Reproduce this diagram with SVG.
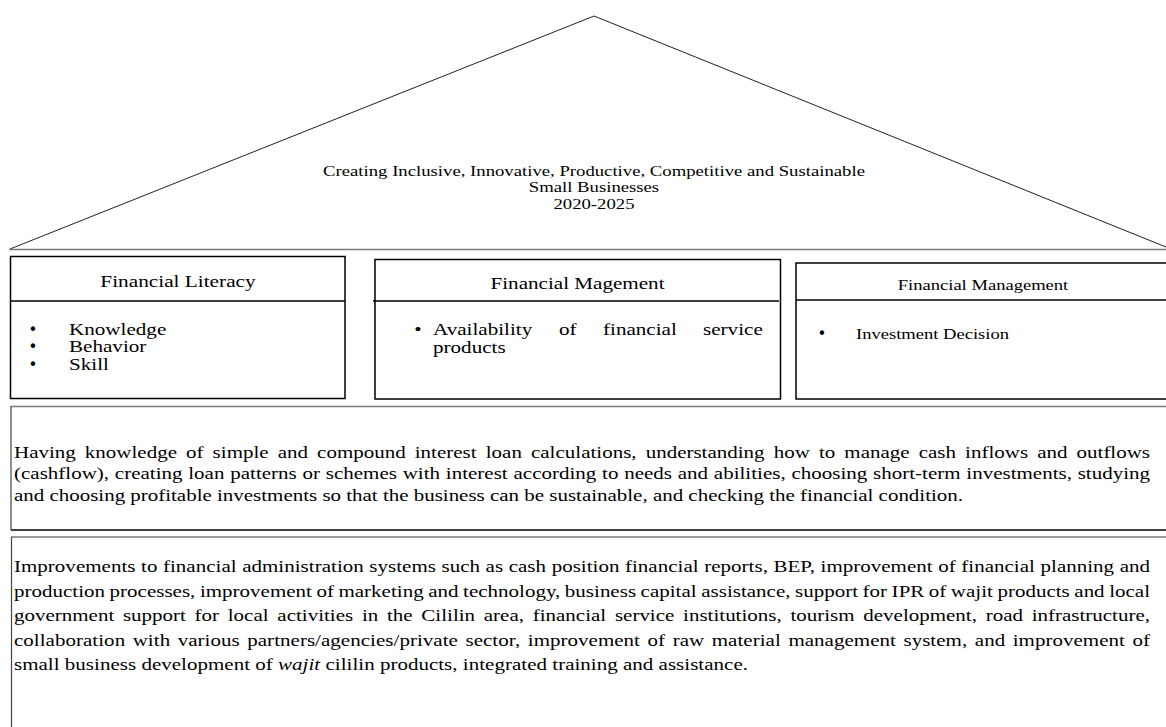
<svg xmlns="http://www.w3.org/2000/svg" width="1166" height="727" viewBox="0 0 1166 727">
<style>
.edge{fill:none;stroke:#222;stroke-width:1}
.frame{fill:none;stroke:#000;stroke-width:1.5}
.rule{stroke:#000;stroke-width:1.5}
.grey{stroke:#7a7a7a;stroke-width:1.5}
.side{stroke:#444;stroke-width:1.2}
.tnr{font-family:"Liberation Serif","Times New Roman",serif;fill:#000;font-size:15px}
.pal{font-family:"Liberation Serif","Times New Roman",serif;fill:#000;font-size:16px}
.dot{font-family:"DejaVu Sans",sans-serif;fill:#000;font-size:15px}
</style>
<rect width="1166" height="727" fill="#fff"/>
<g id="connectors"></g>
<g id="roof">
<polyline class="edge" points="10,249 594,16 1166,247"/>
<line class="grey" x1="9" y1="249.5" x2="1166" y2="249.5"/>
<g transform="scale(1.247,1)">
<text class="tnr" x="476.34" y="176" text-anchor="middle" textLength="434.6" lengthAdjust="spacing">Creating Inclusive, Innovative, Productive, Competitive and Sustainable</text>
<text class="tnr" x="476.34" y="192" text-anchor="middle">Small Businesses</text>
<text class="tnr" x="476.34" y="209" text-anchor="middle">2020-2025</text>
</g>
</g>
<g id="box-literacy">
<rect class="frame" x="10.5" y="256.5" width="334.5" height="142"/>
<line class="rule" x1="10.5" y1="301" x2="345" y2="301"/>
<text class="pal" transform="translate(178,287) scale(1.33,1)" x="0" y="0" font-size="18.5" text-anchor="middle">Financial Literacy</text>
<g transform="scale(1.32,1)">
<text class="pal" x="52.27" y="335.5" font-size="15.5">Knowledge</text>
<text class="pal" x="52.27" y="352.5" font-size="15.5">Behavior</text>
<text class="pal" x="52.27" y="370.5" font-size="15.5">Skill</text>
</g>
<text class="dot" x="33" y="335" text-anchor="middle">•</text>
<text class="dot" x="33" y="352" text-anchor="middle">•</text>
<text class="dot" x="33" y="370" text-anchor="middle">•</text>
</g>
<g id="box-magement">
<rect class="frame" x="375" y="259.5" width="405.5" height="139.5"/>
<line class="rule" x1="373" y1="301" x2="779" y2="301"/>
<g transform="scale(1.32,1)">
<text class="pal" x="437.5" y="289" font-size="15.5" text-anchor="middle">Financial Magement</text>
<text class="pal" x="316.67" y="335" font-size="15.5" text-anchor="middle">•</text>
<text class="pal" x="328.03" y="335" font-size="15.5">Availability</text>
<text class="pal" x="423.48" y="335" font-size="15.5">of</text>
<text class="pal" x="456.82" y="335" font-size="15.5">financial</text>
<text class="pal" x="532.58" y="335" font-size="15.5">service</text>
<text class="pal" x="328.03" y="353" font-size="15.5">products</text>
</g>
</g>
<g id="box-management">
<rect class="frame" x="796" y="263" width="380" height="136"/>
<line class="rule" x1="796" y1="300" x2="1166" y2="300"/>
<g transform="scale(1.238,1)">
<text class="tnr" x="794.02" y="290" text-anchor="middle">Financial Management</text>
<text class="tnr" x="691.44" y="339">Investment Decision</text>
</g>
<text class="dot" x="822" y="338.5" text-anchor="middle">•</text>
</g>
<g id="para-knowledge">
<line class="grey" x1="11" y1="406.5" x2="1166" y2="406.5"/>
<line class="side" x1="11" y1="406" x2="11" y2="530"/>
<line class="rule" x1="11" y1="530" x2="1166" y2="530"/>
<g transform="scale(1.31,1)">
<text class="pal" x="10.69" y="458.5" word-spacing="2.91" textLength="867.18" lengthAdjust="spacing">Having knowledge of simple and compound interest loan calculations, understanding how to manage cash inflows and outflows</text>
<text class="pal" x="10.69" y="479.5" word-spacing="0.4" textLength="867.18" lengthAdjust="spacing">(cashflow), creating loan patterns or schemes with interest according to needs and abilities, choosing short-term investments, studying</text>
<text class="pal" x="10.69" y="501" textLength="724.43" lengthAdjust="spacing">and choosing profitable investments so that the business can be sustainable, and checking the financial condition.</text>
</g>
</g>
<g id="para-improvements">
<line class="grey" x1="11" y1="537" x2="1166" y2="537"/>
<line class="side" x1="11.5" y1="537" x2="11.5" y2="727"/>
<g transform="scale(1.31,1)">
<text class="pal" x="10.69" y="572.5" word-spacing="0.21" textLength="867.18" lengthAdjust="spacing">Improvements to financial administration systems such as cash position financial reports, BEP, improvement of financial planning and</text>
<text class="pal" x="10.69" y="597" word-spacing="-0.58" textLength="867.18" lengthAdjust="spacing">production processes, improvement of marketing and technology, business capital assistance, support for IPR of wajit products and local</text>
<text class="pal" x="10.69" y="621.5" word-spacing="2.63" textLength="867.18" lengthAdjust="spacing">government support for local activities in the Cililin area, financial service institutions, tourism development, road infrastructure,</text>
<text class="pal" x="10.69" y="646" word-spacing="1.74" textLength="867.18" lengthAdjust="spacing">collaboration with various partners/agencies/private sector, improvement of raw material management system, and improvement of</text>
<text class="pal" x="10.69" y="670.5" textLength="560.31" lengthAdjust="spacing">small business development of <tspan font-style="italic">wajit</tspan> cililin products, integrated training and assistance.</text>
</g>
</g>
</svg>
